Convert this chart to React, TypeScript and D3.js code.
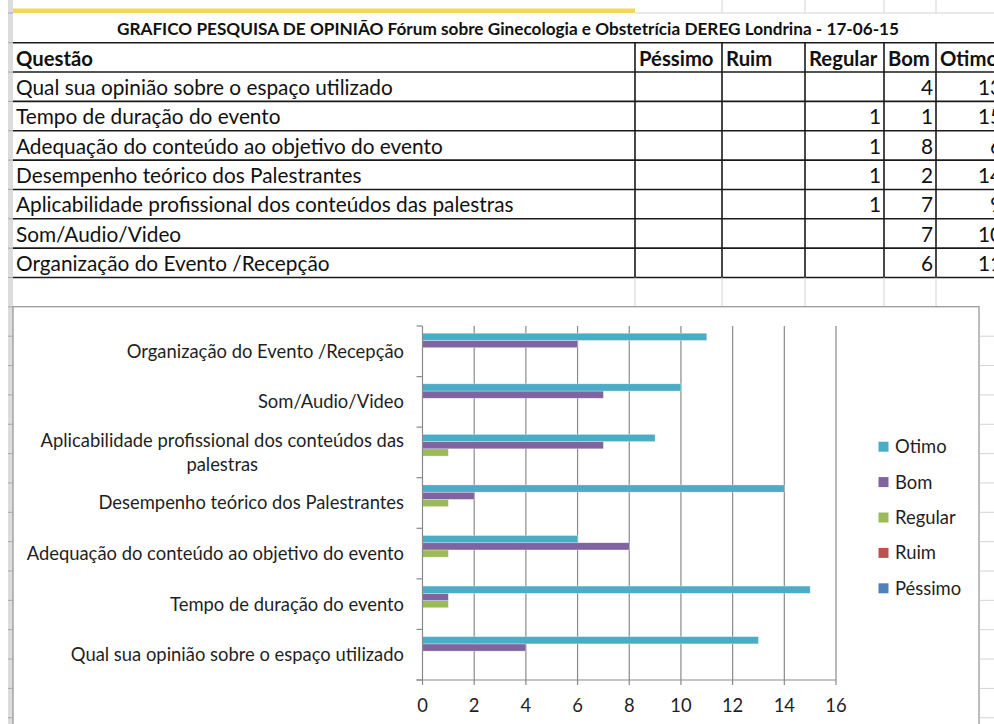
import * as d3 from "d3";
import { useLayoutEffect, useRef, useState } from "react";

const title = "GRAFICO PESQUISA DE OPINIÃO Fórum sobre Ginecologia e Obstetrícia DEREG Londrina - 17-06-15";
const questions = [
  "Qual sua opinião sobre o espaço utilizado",
  "Tempo de duração do evento",
  "Adequação do conteúdo ao objetivo do evento",
  "Desempenho teórico dos Palestrantes",
  "Aplicabilidade profissional dos conteúdos das palestras",
  "Som/Audio/Video",
  "Organização do Evento /Recepção",
];
const ratingNames = ["Péssimo", "Ruim", "Regular", "Bom", "Otimo"];
const pessimoValues = [null, null, null, null, null, null, null];
const ruimValues = [null, null, null, null, null, null, null];
const regularValues = [null, 1, 1, 1, 1, null, null];
const bomValues = [4, 1, 8, 2, 7, 7, 6];
const otimoValues = [13, 15, 6, 14, 9, 10, 11];
const ratingColors = ["#4F81BD", "#C0504D", "#9BBB59", "#8064A2", "#4BACC6"];
const xTicks = [0, 2, 4, 6, 8, 10, 12, 14, 16];

const seriesValues = [pessimoValues, ruimValues, regularValues, bomValues, otimoValues];

const width = 994;
const height = 724;
const font = "Lato, 'Open Sans', sans-serif";

// spreadsheet grid
const rowTop = 42.7;
const rowH = 29.35;
const colX = [13, 635, 722, 805, 884, 936, 1005];
const gridGray = "#d4d4d4";
const cellFont = 20.8;
const headFont = 20.3;
const chartFont = 18.4;

function wrapLabel(label: string, maxChars = 46) {
  const words = label.split(" ");
  const lines: string[] = [];
  let cur = "";
  words.forEach((w) => {
    const next = cur ? cur + " " + w : w;
    if (next.length > maxChars && cur) {
      lines.push(cur);
      cur = w;
    } else cur = next;
  });
  if (cur) lines.push(cur);
  return lines;
}

function CategoryLabel({ lines, right, cy }: { lines: string[]; right: number; cy: number }) {
  const refs = useRef<(SVGTextElement | null)[]>([]);
  const [w, setW] = useState<number | null>(null);
  useLayoutEffect(() => {
    const ws = refs.current.map((t) => (t ? t.getComputedTextLength() : 0));
    setW(Math.max(...ws));
  }, [lines.join("|")]);
  const lh = 24;
  const y0 = cy - ((lines.length - 1) * lh) / 2;
  return (
    <g>
      {lines.map((line, i) => (
        <text
          key={i}
          ref={(el) => {
            refs.current[i] = el;
          }}
          x={w == null ? right : right - w / 2}
          y={y0 + i * lh}
          dy="0.35em"
          textAnchor={w == null ? "end" : "middle"}
          fontSize={chartFont}
          fill="#1f1f1f"
        >
          {line}
        </text>
      ))}
    </g>
  );
}

function Sheet() {
  const rowLines = d3.range(0, 24).map((i) => rowTop + i * rowH).filter((y) => y < height);
  const tableRows = questions.length + 1;
  const tableBottom = rowTop + tableRows * rowH;

  return (
    <g>
      {/* row header strip */}
      <rect x={8} y={0} width={5} height={height} fill="#dcdcdc" />
      {[13, ...rowLines].map((y) => (
        <line key={`rh-${y}`} x1={8} x2={13} y1={y} y2={y} stroke="#a8a8a8" />
      ))}
      {/* top partial row */}
      {colX.slice(2, 6).map((x) => (
        <line key={`top-${x}`} x1={x} x2={x} y1={0} y2={13} stroke={gridGray} />
      ))}
      <line x1={635} x2={width} y1={13} y2={13} stroke={gridGray} />
      <rect x={13} y={8.5} width={622} height={4.5} fill="#f6d55c" />

      {/* title */}
      <text x={508} y={35} textAnchor="middle" fontSize={17.2} fontWeight={700} fill="#111">
        {title}
      </text>

      {/* table borders */}
      {d3.range(0, tableRows + 1).map((i) => (
        <line
          key={`h-${i}`}
          x1={13}
          x2={width}
          y1={rowTop + i * rowH}
          y2={rowTop + i * rowH}
          stroke="#1a1a1a"
          strokeWidth={1.6}
        />
      ))}
      {colX.slice(1, 6).map((x) => (
        <line key={`v-${x}`} x1={x} x2={x} y1={rowTop} y2={tableBottom} stroke="#1a1a1a" strokeWidth={1.6} />
      ))}
      {/* empty row below table */}
      {colX.slice(1, 6).map((x) => (
        <line key={`e-${x}`} x1={x} x2={x} y1={tableBottom} y2={tableBottom + rowH} stroke={gridGray} />
      ))}

      {/* header */}
      <text x={16} y={rowTop + 23} fontSize={headFont} fontWeight={700} fill="#111">
        Questão
      </text>
      {ratingNames.map((r, i) => (
        <text key={r} x={colX[i + 1] + 4} y={rowTop + 23} fontSize={headFont} fontWeight={700} fill="#111">
          {r}
        </text>
      ))}

      {/* rows */}
      {questions.map((q, qi) => {
        const yb = rowTop + (qi + 1) * rowH + 23;
        return (
          <g key={q}>
            <text x={16} y={yb} fontSize={cellFont} fill="#111">
              {q}
            </text>
            {seriesValues.map((vals, si) =>
              vals[qi] == null ? null : (
                <text key={si} x={colX[si + 2] - 3} y={yb} textAnchor="end" fontSize={cellFont} fill="#111">
                  {vals[qi]}
                </text>
              )
            )}
          </g>
        );
      })}
    </g>
  );
}

function Chart() {
  const x = d3.scaleLinear().domain([0, 16]).range([422.5, 836]);
  const y = d3
    .scaleBand()
    .domain([...questions].reverse())
    .range([326, 680]);
  const inner = d3
    .scaleBand()
    .domain([...ratingNames].reverse())
    .range([0, y.bandwidth()])
    .paddingInner(0)
    .paddingOuter(1);
  const legendY = d3
    .scalePoint()
    .domain([...ratingNames].reverse())
    .range([446.7, 588.3]);
  const boundaries = [...y.domain().map((d) => y(d)!), y.range()[1]];
  const axisY = y.range()[1];
  const axisX = x(0);

  return (
    <g>
      {/* chart frame */}
      <rect x={13} y={306.7} width={966} height={height} fill="#fff" stroke="#9a9a9a" strokeWidth={1.3} />
      {/* sheet gridlines right of chart */}
      {d3
        .range(0, 24)
        .map((i) => rowTop + i * rowH)
        .filter((v) => v > 310 && v < height)
        .map((v) => (
          <line key={`rg-${v}`} x1={980} x2={width} y1={v} y2={v} stroke={gridGray} />
        ))}

      {/* vertical gridlines */}
      {xTicks.slice(1).map((t) => (
        <line key={`g-${t}`} x1={x(t)} x2={x(t)} y1={326} y2={axisY + 5} stroke="#8a8a8a" strokeWidth={1.2} />
      ))}

      {/* bars */}
      {questions.map((q, qi) =>
        ratingNames.map((r, si) => {
          const v = seriesValues[si][qi];
          if (v == null) return null;
          return (
            <rect
              key={`${q}-${r}`}
              x={x(0)}
              y={y(q)! + inner(r)!}
              width={x(v) - x(0)}
              height={inner.bandwidth()}
              fill={ratingColors[si]}
              stroke="#ffffff"
              strokeOpacity={0.5}
              strokeWidth={0.6}
            />
          );
        })
      )}

      {/* axes */}
      <line x1={axisX} x2={axisX} y1={326} y2={axisY} stroke="#8a8a8a" strokeWidth={1.2} />
      {boundaries.map((b) => (
        <line key={`yt-${b}`} x1={axisX - 6} x2={axisX} y1={b} y2={b} stroke="#8a8a8a" strokeWidth={1.2} />
      ))}
      <line x1={axisX - 6} x2={x(16)} y1={axisY} y2={axisY} stroke="#8a8a8a" strokeWidth={1.2} />
      <line x1={axisX} x2={axisX} y1={axisY} y2={axisY + 5} stroke="#8a8a8a" strokeWidth={1.2} />
      {xTicks.map((t) => (
        <text key={`xl-${t}`} x={x(t)} y={706} dy="0.35em" textAnchor="middle" fontSize={chartFont} fill="#1f1f1f">
          {t}
        </text>
      ))}

      {/* category labels */}
      {questions.map((q) => (
        <CategoryLabel key={q} lines={wrapLabel(q)} right={404} cy={y(q)! + y.bandwidth() / 2} />
      ))}

      {/* legend */}
      {[...ratingNames].reverse().map((r) => {
        const si = ratingNames.indexOf(r);
        const ly = legendY(r)!;
        return (
          <g key={`lg-${r}`}>
            <rect x={878.5} y={ly - 5} width={10} height={10} fill={ratingColors[si]} />
            <text x={895} y={ly} dy="0.35em" fontSize={chartFont} fill="#1f1f1f">
              {r}
            </text>
          </g>
        );
      })}
    </g>
  );
}

export default function App() {
  return (
    <div style={{ position: "absolute", left: 0, top: 0, width, height, overflow: "hidden", background: "#fff" }}>
      <svg width={width} height={height} style={{ display: "block", fontFamily: font }}>
        <rect width={width} height={height} fill="#fff" />
        <Sheet />
        <Chart />
      </svg>
    </div>
  );
}
